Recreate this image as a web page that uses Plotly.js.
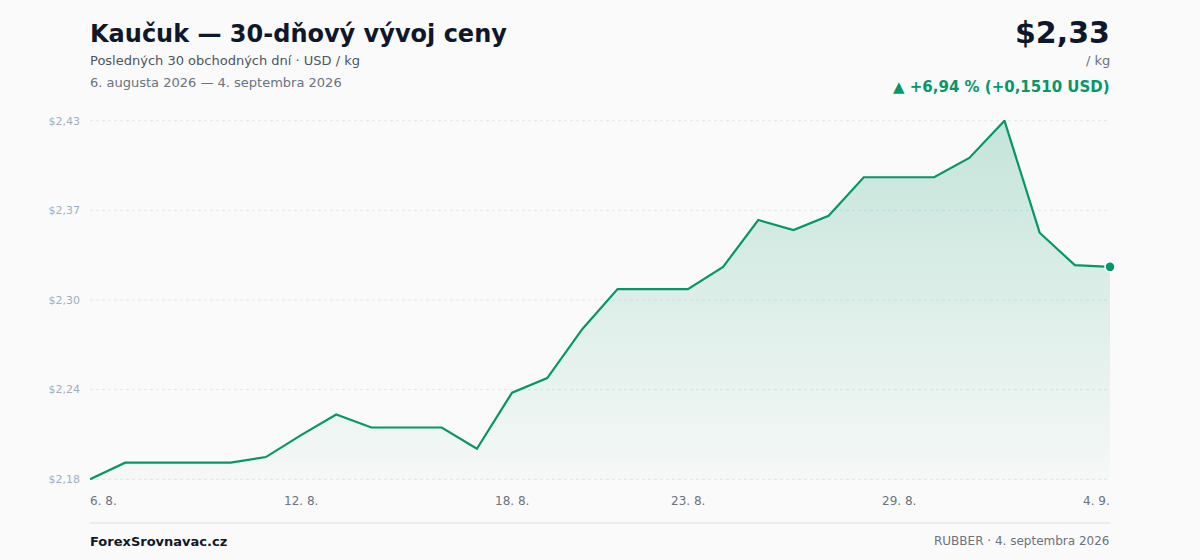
<!DOCTYPE html>
<html>
<head>
<meta charset="utf-8">
<script src="https://cdn.plot.ly/plotly-3.0.1.min.js"></script>
<style>
  html, body { margin: 0; padding: 0; background: #fafafa; }
  #chart { width: 1200px; height: 560px; }
</style>
</head>
<body>
<div id="chart"></div>
<script>
// ---- Data ----
const dates = [
  "2026-08-06","2026-08-07","2026-08-08","2026-08-09","2026-08-10",
  "2026-08-11","2026-08-12","2026-08-13","2026-08-14","2026-08-15",
  "2026-08-16","2026-08-17","2026-08-18","2026-08-19","2026-08-20",
  "2026-08-21","2026-08-22","2026-08-23","2026-08-24","2026-08-25",
  "2026-08-26","2026-08-27","2026-08-28","2026-08-29","2026-08-30",
  "2026-08-31","2026-09-01","2026-09-02","2026-09-03","2026-09-04"
];
const prices = [
  2.1758, 2.1876, 2.1876, 2.1876, 2.1876,
  2.1916, 2.2072, 2.2218, 2.2126, 2.2126,
  2.2126, 2.1975, 2.2374, 2.2477, 2.2827,
  2.3110, 2.3110, 2.3110, 2.3268, 2.3601,
  2.3530, 2.3631, 2.3905, 2.3905, 2.3905,
  2.4042, 2.4307, 2.3511, 2.3280, 2.3268
];
const xTickDates = ["2026-08-06","2026-08-12","2026-08-18","2026-08-23","2026-08-29","2026-09-04"];
const xTickLabels = ["6. 8.","12. 8.","18. 8.","23. 8.","29. 8.","4. 9."];
const yTickLabels = ["$2,18","$2,24","$2,30","$2,37","$2,43"];

const titleText = "Kaučuk — 30-dňový vývoj ceny";
const subtitleText = "Posledných 30 obchodných dní · USD / kg";
const periodText = "6. augusta 2026 — 4. septembra 2026";
const priceText = "$2,33";
const unitText = "/ kg";
const changeText = "▲ +6,94 % (+0,1510 USD)";
const footerLeft = "ForexSrovnavac.cz";
const footerRight = "RUBBER · 4. septembra 2026";

// ---- Derived ----
const GREEN = "#059669";
const yMin = Math.min(...prices), yMax = Math.max(...prices);
const yTickVals = yTickLabels.map((_, i) => yMin + (yMax - yMin) * i / (yTickLabels.length - 1));
const yPad = (yMax - yMin) * 0.002;

const M = {l: 90, r: 90, t: 120, b: 80};
const H = 560;
const py = (pix) => (H - M.b - pix) / (H - M.t - M.b); // pixel y -> paper y
const px = (pix) => (pix - M.l) / (1200 - M.l - M.r);  // pixel x -> paper x
const FONT = "DejaVu Sans, sans-serif";

const traces = [
  {
    x: dates, y: prices, type: "scatter", mode: "lines",
    line: {color: GREEN, width: 2.2, shape: "linear"},
    fill: "tozeroy",
    fillgradient: {
      type: "vertical",
      start: yMin, stop: yMax,
      colorscale: [[0, "rgba(5,150,105,0.02)"], [1, "rgba(5,150,105,0.22)"]]
    },
    hoverinfo: "skip"
  },
  {
    x: [dates[dates.length - 1]], y: [prices[prices.length - 1]],
    type: "scatter", mode: "markers", cliponaxis: false,
    marker: {color: GREEN, size: 10, line: {color: "#ffffff", width: 1.5}},
    hoverinfo: "skip"
  }
];

const annotations = [];
// x tick labels
xTickDates.forEach((d, i) => {
  annotations.push({
    x: d, xref: "x", y: py(501), yref: "paper",
    text: xTickLabels[i], showarrow: false, borderpad: 0, borderwidth: 0,
    xanchor: i === 0 ? "left" : (i === xTickDates.length - 1 ? "right" : "center"),
    yanchor: "middle",
    font: {family: FONT, size: 12, color: "#6b7280"}
  });
});
const addText = (text, xpx, ypx, anchor, size, color, bold) => {
  annotations.push({
    x: px(xpx), xref: "paper",
    y: py(ypx), yref: "paper",
    text: bold ? "<b>" + text + "</b>" : text,
    showarrow: false, xanchor: anchor, yanchor: "middle",
    borderpad: 0, borderwidth: 0,
    font: {family: FONT, size: size, color: color}
  });
};
addText(titleText, 90, 34, "left", 24, "#0f172a", true);
addText(subtitleText, 90, 61, "left", 13, "#4b5563", false);
addText(periodText, 90, 83, "left", 13, "#6b7280", false);
addText(priceText, 1110, 32, "right", 30, "#0f172a", true);
addText(unitText, 1110, 61, "right", 13, "#6b7280", false);
addText(changeText, 1110, 87, "right", 15, GREEN, true);
addText(footerLeft, 90, 541, "left", 13, "#111827", true);
addText(footerRight, 1110, 541, "right", 12, "#6b7280", false);

// dotted horizontal grid lines at tick values
const shapes = yTickVals.map(v => ({
  type: "line", xref: "paper", yref: "y", x0: 0, x1: 1, y0: v, y1: v,
  layer: "below", line: {color: "#e3e6ea", width: 1, dash: "dot"}
}));
shapes.push({type: "line", xref: "paper", yref: "paper", x0: 0, x1: 1, y0: py(523), y1: py(523),
  line: {color: "#e5e7eb", width: 1.5}});

const layout = {
  width: 1200, height: 560,
  margin: M,
  paper_bgcolor: "#fafafa", plot_bgcolor: "#fafafa",
  showlegend: false,
  font: {family: FONT},
  xaxis: {
    type: "date", range: [dates[0], dates[dates.length - 1]],
    showgrid: false, zeroline: false, showline: false,
    showticklabels: false, ticks: "", fixedrange: true
  },
  yaxis: {
    range: [yMin - yPad, yMax + yPad],
    tickvals: yTickVals, ticktext: yTickLabels,
    showgrid: false,
    zeroline: false, showline: false, ticks: "",
    ticklabelstandoff: 9,
    tickfont: {family: FONT, size: 11, color: "#a0aec0"},
    fixedrange: true
  },
  shapes: shapes,
  annotations: annotations
};

Plotly.newPlot("chart", traces, layout, {displayModeBar: false, staticPlot: true});
</script>
</body>
</html>
